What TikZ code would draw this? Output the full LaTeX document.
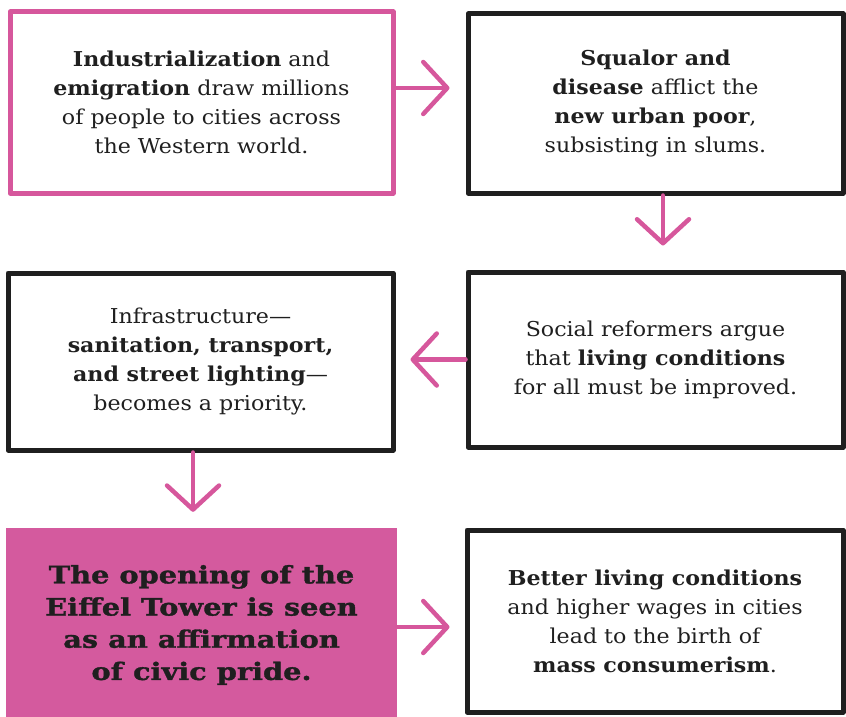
\documentclass[tikz,border=0pt]{standalone}
\usepackage{fontspec}
\setmainfont{DejaVu Serif}[FakeStretch=1.08]
\newfontfamily\heavyfont{DejaVu Serif}[FakeStretch=1.2, BoldFeatures={FakeBold=1.4}]
\usetikzlibrary{arrows.meta}
\definecolor{pinkc}{HTML}{D6579C}
\definecolor{pinkfill}{HTML}{D45A9E}
\definecolor{inkc}{HTML}{1F1F1F}
\tikzset{
  box/.style={draw=inkc, line width=5pt, line join=round, rectangle, inner sep=0pt,
    align=center, text=inkc, font=\fontsize{20.5}{29}\selectfont},
  pinkbox/.style={box, draw=pinkc},
  hotbox/.style={rectangle, fill=pinkfill, inner sep=0pt, align=center, text=inkc,
    font=\fontsize{24}{32.2}\heavyfont\bfseries},
  arr/.style={draw=pinkc, line width=4.5pt, line cap=round,
    -{Straight Barb[length=24pt, width=52pt, round]}},
}
\begin{document}
\begin{tikzpicture}[x=1pt, y=-1pt]
\useasboundingbox (0,0) rectangle (846,717);
\node[pinkbox, minimum width=383pt, minimum height=181pt] (b1) at (201.5,102.5)
  {\textbf{Industrialization} and\\ \textbf{emigration} draw millions\\ of people to cities across\\ the Western world.};
\node[box, minimum width=375pt, minimum height=179pt] (b2) at (655.5,103.5)
  {\textbf{Squalor and}\\ \textbf{disease} afflict the\\ \textbf{new urban poor},\\ subsisting in slums.};
\node[box, minimum width=375pt, minimum height=175pt] (b4) at (655.5,359.5)
  {Social reformers argue\\ that \textbf{living conditions}\\ for all must be improved.};
\node[box, minimum width=385pt, minimum height=177pt] (b3) at (200.5,361.5)
  {Infrastructure---\\ \textbf{sanitation, transport,}\\ \textbf{and street lighting}---\\ becomes a priority.};
\node[hotbox, minimum width=391pt, minimum height=194pt] (b5) at (201.5,625)
  {The opening of the\\ Eiffel Tower is seen\\ as an affirmation\\ of civic pride.};
\node[box, minimum width=376pt, minimum height=182pt] (b6) at (655,621)
  {\textbf{Better living conditions}\\ and higher wages in cities\\ lead to the birth of\\ \textbf{mass consumerism}.};
\draw[arr] ([yshift=14.5pt]b1.east) coordinate (s1) -- ([xshift=-16pt]b2.west |- s1);
\draw[arr] ([xshift=7.5pt]b2.south) coordinate (s2) -- ([yshift=24pt]s2 |- b4.north);
\draw[arr] (b4.west) coordinate (s3) -- ([xshift=15pt]b3.east |- s3);
\draw[arr] ([xshift=-7.5pt]b3.south) coordinate (s4) -- ([yshift=16pt]s4 |- b5.north);
\draw[arr] ([yshift=-2pt]b5.east) coordinate (s5) -- ([xshift=-15pt]b6.west |- s5);
\end{tikzpicture}
\end{document}
